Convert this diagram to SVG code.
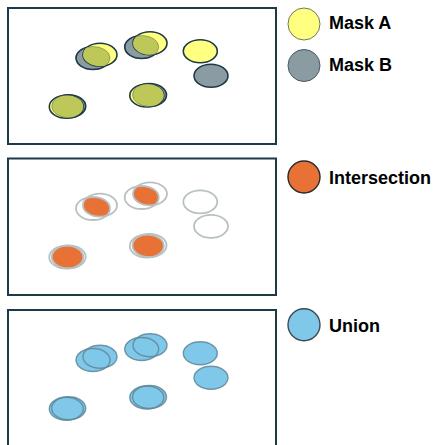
<svg xmlns="http://www.w3.org/2000/svg" width="434" height="445" viewBox="0 0 434 445">
<style>
.panel{fill:#fff;stroke:#1d3a48;stroke-width:2}
.a{fill:#ffff80;stroke:#1f3947;stroke-width:1.6}
.b{fill:#8a9ba2;stroke:#1f3947;stroke-width:1.6}
.ab{fill:#bec859}
.bline{fill:none;stroke:#1f3947;stroke-width:1;opacity:0.35}
.ring{fill:none;stroke:#b8c0c2;stroke-width:1.8}
.inter{fill:#e87236}
.u{fill:#7fc8ea}
.us{fill:none;stroke:#5e8798;stroke-width:1.4;opacity:0.85}
.lbl{font-family:"Liberation Sans",Arial,sans-serif;font-weight:bold;font-size:18px;fill:#000}
</style>
<defs>
<ellipse id="b1" cx="93" cy="58" rx="17" ry="11.5"/>
<ellipse id="a1" cx="100" cy="54.7" rx="17" ry="11.5"/>
<ellipse id="b2" cx="141.7" cy="47" rx="17" ry="11.5"/>
<ellipse id="a2" cx="150" cy="43.3" rx="17" ry="11.5"/>
<ellipse id="a3" cx="200.3" cy="51.3" rx="17" ry="11.5"/>
<ellipse id="b4" cx="211" cy="75.8" rx="17" ry="11.5"/>
<ellipse id="b5" cx="68.7" cy="106.3" rx="17" ry="11.5"/>
<ellipse id="a5" cx="66.3" cy="106.7" rx="17" ry="11.5"/>
<ellipse id="b6" cx="149.5" cy="95" rx="17" ry="11.5"/>
<ellipse id="a6" cx="146.8" cy="95.5" rx="17" ry="11.5"/>
<clipPath id="cb1"><use href="#b1"/></clipPath>
<clipPath id="cb2"><use href="#b2"/></clipPath>
<clipPath id="cb5"><use href="#b5"/></clipPath>
<clipPath id="cb6"><use href="#b6"/></clipPath>
</defs>

<g id="panel-masks">
<rect class="panel" x="8" y="8" width="268" height="136"/>
<use href="#b1" class="b"/><use href="#a1" class="a"/>
<use href="#a1" class="ab" clip-path="url(#cb1)"/><use href="#b1" class="bline"/>
<use href="#b2" class="b"/><use href="#a2" class="a"/>
<use href="#a2" class="ab" clip-path="url(#cb2)"/><use href="#b2" class="bline"/>
<use href="#a3" class="a"/>
<use href="#b4" class="b"/>
<use href="#b5" class="b"/><use href="#a5" class="a"/>
<use href="#a5" class="ab" clip-path="url(#cb5)"/><use href="#b5" class="bline"/>
<use href="#b6" class="b"/><use href="#a6" class="a"/>
<use href="#a6" class="ab" clip-path="url(#cb6)"/><use href="#b6" class="bline"/>
</g>

<g id="panel-intersection">
<rect class="panel" x="8" y="158.5" width="268" height="136.5"/>
<g transform="translate(0,150.5)">
<use href="#a1" class="inter" clip-path="url(#cb1)"/>
<use href="#a2" class="inter" clip-path="url(#cb2)"/>
<use href="#a5" class="inter" clip-path="url(#cb5)"/>
<use href="#a6" class="inter" clip-path="url(#cb6)"/>
<use href="#b1" class="ring"/><use href="#a1" class="ring"/>
<use href="#b2" class="ring"/><use href="#a2" class="ring"/>
<use href="#a3" class="ring"/><use href="#b4" class="ring"/>
<use href="#b5" class="ring"/><use href="#a5" class="ring"/>
<use href="#b6" class="ring"/><use href="#a6" class="ring"/>
</g>
</g>

<g id="panel-union">
<rect class="panel" x="8" y="310" width="268" height="150"/>
<g transform="translate(0,302)">
<use href="#b1" class="u"/><use href="#a1" class="u"/>
<use href="#b2" class="u"/><use href="#a2" class="u"/>
<use href="#a3" class="u"/><use href="#b4" class="u"/>
<use href="#b5" class="u"/><use href="#a5" class="u"/>
<use href="#b6" class="u"/><use href="#a6" class="u"/>
<use href="#b1" class="us"/><use href="#a1" class="us"/>
<use href="#b2" class="us"/><use href="#a2" class="us"/>
<use href="#a3" class="us"/><use href="#b4" class="us"/>
<use href="#b5" class="us"/><use href="#a5" class="us"/>
<use href="#b6" class="us"/><use href="#a6" class="us"/>
</g>
</g>

<g id="legend-mask-a">
<circle cx="304" cy="24" r="16" fill="#ffff80" stroke="#77775a" stroke-width="1"/>
<text class="lbl" x="329" y="29">Mask A</text>
</g>
<g id="legend-mask-b">
<circle cx="304" cy="65.5" r="16" fill="#8a9ba2" stroke="#4a5a62" stroke-width="1"/>
<text class="lbl" x="329" y="71">Mask B</text>
</g>
<g id="legend-intersection">
<circle cx="304" cy="177" r="16" fill="#e87236" stroke="#2a2a2a" stroke-width="1.4"/>
<text class="lbl" x="329" y="184">Intersection</text>
</g>
<g id="legend-union">
<circle cx="304" cy="324.7" r="16" fill="#7fc8ea" stroke="#3e4a52" stroke-width="1.4"/>
<text class="lbl" x="329" y="331.5">Union</text>
</g>
</svg>
